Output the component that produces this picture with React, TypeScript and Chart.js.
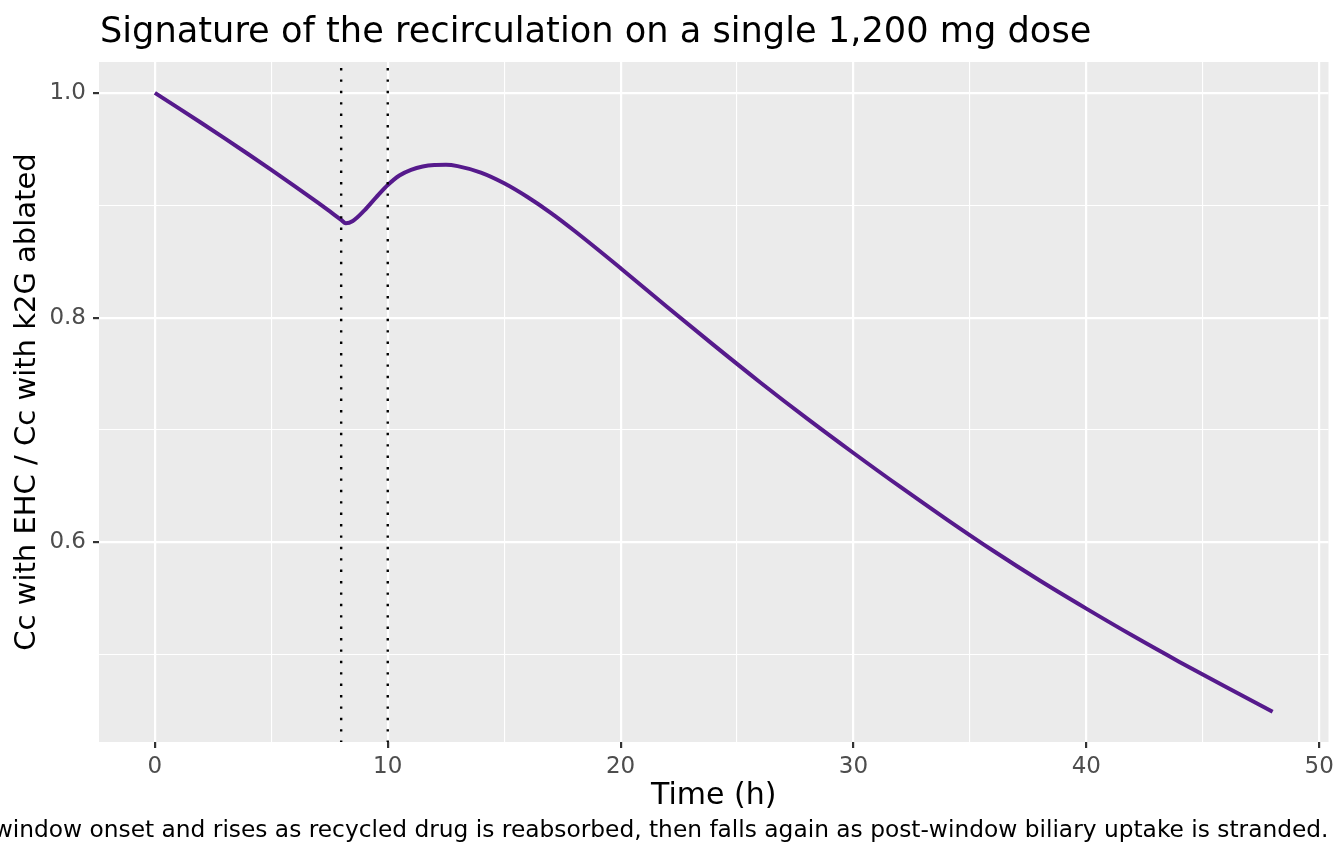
import { useEffect, useRef } from "react";
import { Chart, registerables } from "chart.js";

Chart.register(...registerables);

// hours after the dose
const times = [
  0, 1, 2, 3, 4, 5, 6, 7, 7.5, 8, 8.2, 8.5, 9, 9.5, 10, 10.5, 11, 11.5, 12, 12.5,
  13, 14, 15, 16, 17, 18, 20, 22, 24, 26, 28, 30, 32, 34, 36, 38, 40, 42, 44, 46, 48,
];
// Cc with EHC / Cc with k2G ablated
const ratio = [
  1.0, 0.9867, 0.9732, 0.9595, 0.9456, 0.9315, 0.9171, 0.9023, 0.8947, 0.887, 0.884,
  0.886, 0.8955, 0.907, 0.918, 0.9265, 0.9315, 0.9345, 0.9358, 0.936, 0.9348, 0.929,
  0.9195, 0.9073, 0.8932, 0.8775, 0.844, 0.8095, 0.7755, 0.7423, 0.7103, 0.6795, 0.6495,
  0.6205, 0.5925, 0.566, 0.541, 0.5168, 0.4936, 0.4712, 0.4492,
];
const windowMarks = [8, 10];

const xGridTicks = [0, 5, 10, 15, 20, 25, 30, 35, 40, 45, 50];
const xTickLabels = [0, 10, 20, 30, 40, 50];
const yGridTicks = [0.5, 0.6, 0.7, 0.8, 0.9, 1.0];
const yTickLabels = [0.6, 0.8, 1.0];

const titleText = "Signature of the recirculation on a single 1,200 mg dose";
const captionText =
  "window onset and rises as recycled drug is reabsorbed, then falls again as post-window biliary uptake is stranded.";

const FONT = "'DejaVu Sans', sans-serif";

const ggPanel = {
  id: "ggPanel",
  beforeDraw(chart: Chart) {
    const { ctx, chartArea: a } = chart;
    ctx.save();
    ctx.fillStyle = "#FFFFFF";
    ctx.fillRect(0, 0, chart.width, chart.height);
    ctx.fillStyle = "#EBEBEB";
    ctx.fillRect(a.left, a.top, a.right - a.left, a.bottom - a.top);
    ctx.restore();
  },
  afterDatasetsDraw(chart: Chart) {
    const { ctx, chartArea: a } = chart;
    const xs = chart.scales.x;
    ctx.save();
    ctx.strokeStyle = "#000000";
    ctx.lineWidth = 2.4;
    ctx.setLineDash([2.4, 9]);
    windowMarks.forEach((t) => {
      const px = xs.getPixelForValue(t);
      ctx.beginPath();
      ctx.moveTo(px, a.top + 6);
      ctx.lineTo(px, a.bottom);
      ctx.stroke();
    });
    ctx.restore();
  },
  afterDraw(chart: Chart) {
    const { ctx, chartArea: a } = chart;
    ctx.save();
    ctx.fillStyle = "#000000";
    ctx.textBaseline = "alphabetic";
    ctx.font = `35.2px ${FONT}`;
    ctx.textAlign = "left";
    ctx.fillText(titleText, a.left + 1, 42);
    ctx.font = `23.3px ${FONT}`;
    ctx.textAlign = "right";
    ctx.fillText(captionText, a.right, 837);
    ctx.restore();
  },
};

export default function App() {
  const canvasRef = useRef<HTMLCanvasElement>(null);
  const chartRef = useRef<Chart | null>(null);

  useEffect(() => {
    document.body.style.margin = "0";
    if (!canvasRef.current) return;
    if (chartRef.current) chartRef.current.destroy();

    const ctx = canvasRef.current.getContext("2d");
    if (!ctx) return;

    chartRef.current = new Chart(ctx, {
      type: "line",
      data: {
        datasets: [
          {
            data: times.map((t, i) => ({ x: t, y: ratio[i] })),
            borderColor: "#561A8C",
            borderWidth: 4,
            pointRadius: 0,
            cubicInterpolationMode: "monotone",
            fill: false,
          },
        ],
      },
      options: {
        responsive: false,
        animation: false,
        devicePixelRatio: 1,
        layout: { padding: { top: 62, right: 15.5, bottom: 50, left: 0 } },
        plugins: {
          legend: { display: false },
          tooltip: { enabled: false },
        },
        scales: {
          x: {
            type: "linear",
            min: -2.4,
            max: 50.4,
            afterBuildTicks: (s: any) => {
              s.ticks = xGridTicks.map((v) => ({ value: v }));
            },
            afterFit: (s: any) => {
              s.height = 72;
            },
            ticks: {
              autoSkip: false,
              maxRotation: 0,
              padding: 5,
              color: "#4D4D4D",
              font: { family: FONT, size: 23 },
              callback: (v: any) => (xTickLabels.includes(v) ? String(v) : ""),
            },
            grid: {
              color: "#FFFFFF",
              lineWidth: (c: any) => (xTickLabels.includes(c.tick?.value) ? 2.2 : 1.1),
              tickColor: (c: any) =>
                xTickLabels.includes(c.tick?.value) ? "#333333" : "rgba(0,0,0,0)",
              tickWidth: 2.2,
              tickLength: 6,
            },
            border: { display: false },
            title: {
              display: true,
              text: "Time (h)",
              color: "#000000",
              font: { family: FONT, size: 30 },
              padding: { top: 0, bottom: 0 },
            },
          },
          y: {
            type: "linear",
            min: 0.4223,
            max: 1.0275,
            afterBuildTicks: (s: any) => {
              s.ticks = yGridTicks.map((v) => ({ value: v }));
            },
            afterFit: (s: any) => {
              s.width = 99;
            },
            ticks: {
              padding: 7,
              color: "#4D4D4D",
              font: { family: FONT, size: 23 },
              callback: (v: any) => (yTickLabels.includes(v) ? Number(v).toFixed(1) : ""),
            },
            grid: {
              color: "#FFFFFF",
              lineWidth: (c: any) => (yTickLabels.includes(c.tick?.value) ? 2.2 : 1.1),
              tickColor: (c: any) =>
                yTickLabels.includes(c.tick?.value) ? "#333333" : "rgba(0,0,0,0)",
              tickWidth: 2.2,
              tickLength: 6,
            },
            border: { display: false },
            title: {
              display: true,
              text: "Cc with EHC / Cc with k2G ablated",
              color: "#000000",
              font: { family: FONT, size: 29 },
              padding: { top: 10, bottom: 0 },
            },
          },
        },
      },
      plugins: [ggPanel],
    });

    return () => {
      if (chartRef.current) {
        chartRef.current.destroy();
        chartRef.current = null;
      }
    };
  }, []);

  return (
    <div style={{ width: 1344, height: 864 }}>
      <canvas ref={canvasRef} width={1344} height={864} style={{ display: "block" }}></canvas>
    </div>
  );
}
